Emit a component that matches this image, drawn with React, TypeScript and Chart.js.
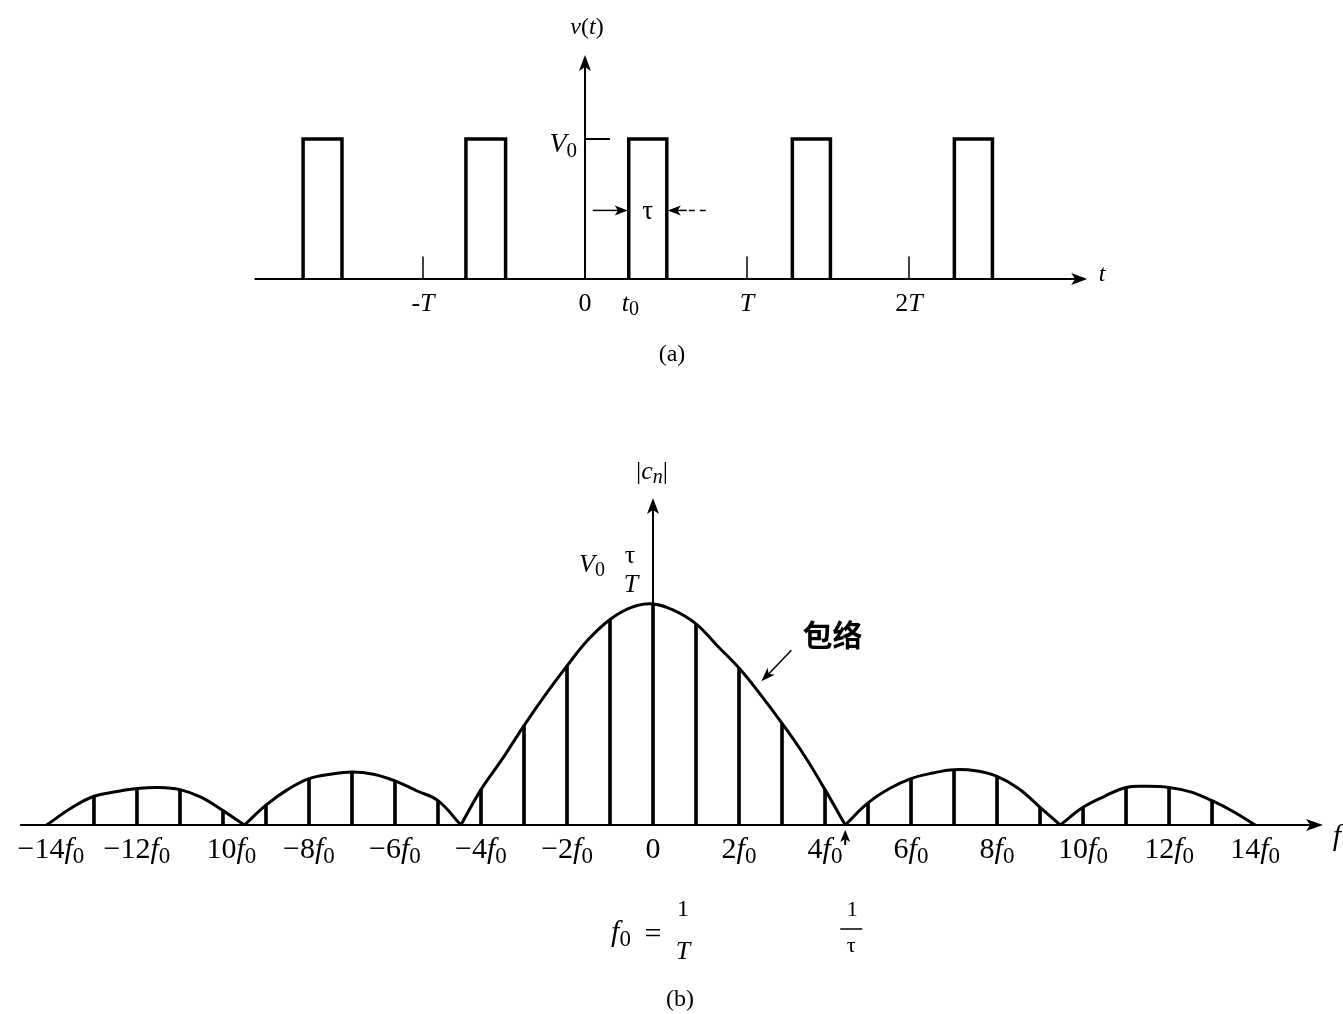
import React, { useEffect, useRef } from "react";
import { Chart, registerables } from "chart.js";

Chart.register(...registerables);

const SERIF = "'Liberation Serif', 'DejaVu Serif', serif";
const CJK = "'Noto Sans CJK SC', 'Noto Sans CJK TC', sans-serif";
const INK = "#000";

// ---- (a) periodic pulse train v(t): time in units of T, level in units of V0
const pulseStarts = [-1.74, -0.735, 0.27, 1.28, 2.28];
const pulseWidths = [0.24, 0.245, 0.235, 0.235, 0.235];
const pulseLevels = [1, 1, 1, 1, 1];
const timeTickValues = [-1, 0, 0.28, 1, 2];
const timeTickLabels = ["-T", "0", "t₀", "T", "2T"];
const periodMarks = [-1, 1, 2];

// ---- (b) amplitude spectrum |c_n|: frequency in units of f0, magnitude in units of V0·τ/T
const harmonics = [-13, -12, -11, -10, -9, -8, -7, -6, -5, -4, -3, -2, -1, 0, 1, 2, 3, 4, 5, 6, 7, 8, 9, 10, 11, 12, 13];
const magnitudes = [0.13, 0.16, 0.16, 0.06, 0.09, 0.21, 0.24, 0.2, 0.11, 0.16, 0.45, 0.72, 0.93, 1.0, 0.91, 0.71, 0.46, 0.16, 0.1, 0.21, 0.25, 0.22, 0.08, 0.08, 0.17, 0.17, 0.11];

// envelope lobes, separated by null so the nulls stay sharp
const envelopeFreq = [
  -14.1, -13.5, -13, -12.5, -12, -11.5, -11, -10.5, -10, -9.5, null,
  -9.5, -9, -8.5, -8, -7.5, -7, -6.5, -6, -5.5, -5, -4.47, null,
  -4.47, -4, -3.5, -3, -2.5, -2, -1.5, -1, -0.5, 0, 0.5, 1, 1.5, 2, 2.5, 3, 3.5, 4, 4.47, null,
  4.47, 5, 5.5, 6, 6.5, 7, 7.5, 8, 8.5, 9, 9.47, null,
  9.47, 10, 10.5, 11, 11.5, 12, 12.5, 13, 13.5, 14.0,
];
const envelopeMag = [
  0, 0.08, 0.13, 0.15, 0.165, 0.17, 0.16, 0.125, 0.065, 0, null,
  0, 0.09, 0.16, 0.21, 0.23, 0.24, 0.23, 0.2, 0.155, 0.11, 0, null,
  0, 0.16, 0.3, 0.45, 0.59, 0.72, 0.84, 0.93, 0.985, 1.0, 0.97, 0.91, 0.81, 0.71, 0.59, 0.46, 0.32, 0.16, 0, null,
  0, 0.1, 0.165, 0.21, 0.235, 0.25, 0.245, 0.22, 0.165, 0.08, 0, null,
  0, 0.08, 0.13, 0.17, 0.175, 0.17, 0.15, 0.11, 0.06, 0,
];
const freqTickValues = [-14, -12, -10, -8, -6, -4, -2, 0, 2, 4, 6, 8, 10, 12, 14];
const freqTickLabels = ["−14f₀", "−12f₀", "10f₀", "−8f₀", "−6f₀", "−4f₀", "−2f₀", "0", "2f₀", "4f₀", "6f₀", "8f₀", "10f₀", "12f₀", "14f₀"];
const firstNull = 4.47;

type Run = { text: string; italic: boolean; sub: boolean };

function toRuns(s: string): Run[] {
  const runs: Run[] = [];
  for (const ch of s) {
    let text = ch;
    let italic = /[A-Za-z]/.test(ch);
    let sub = false;
    if (ch === "₀") { text = "0"; sub = true; italic = false; }
    if (ch === "ₙ") { text = "n"; sub = true; italic = true; }
    const last = runs[runs.length - 1];
    if (last && last.italic === italic && last.sub === sub) last.text += text;
    else runs.push({ text, italic, sub });
  }
  return runs;
}

function runFont(r: Run, size: number) {
  const px = r.sub ? Math.round(size * 0.75) : size;
  return `${r.italic ? "italic " : ""}${px}px ${SERIF}`;
}

function richWidth(ctx: CanvasRenderingContext2D, s: string, size: number) {
  let w = 0;
  for (const r of toRuns(s)) {
    ctx.font = runFont(r, size);
    w += ctx.measureText(r.text).width;
  }
  return w;
}

function drawRich(
  ctx: CanvasRenderingContext2D,
  s: string,
  x: number,
  y: number,
  size: number,
  align: "left" | "center" | "right" = "center"
) {
  const runs = toRuns(s);
  const w = richWidth(ctx, s, size);
  let cx = align === "center" ? x - w / 2 : align === "right" ? x - w : x;
  ctx.textAlign = "left";
  ctx.textBaseline = "middle";
  ctx.fillStyle = INK;
  for (const r of runs) {
    ctx.font = runFont(r, size);
    ctx.fillText(r.text, cx, r.sub ? y + size * 0.22 : y);
    cx += ctx.measureText(r.text).width;
  }
}

function drawPlain(ctx: CanvasRenderingContext2D, s: string, x: number, y: number, font: string) {
  ctx.font = font;
  ctx.fillStyle = INK;
  ctx.textAlign = "center";
  ctx.textBaseline = "middle";
  ctx.fillText(s, x, y);
}

function arrowHead(ctx: CanvasRenderingContext2D, tx: number, ty: number, dx: number, dy: number, len: number, half: number) {
  const n = Math.hypot(dx, dy) || 1;
  const ux = dx / n, uy = dy / n;
  const bx = tx - ux * len, by = ty - uy * len;
  ctx.beginPath();
  ctx.moveTo(tx, ty);
  ctx.lineTo(bx - uy * half, by + ux * half);
  ctx.lineTo(bx + ux * len * 0.25, by + uy * len * 0.25);
  ctx.lineTo(bx + uy * half, by - ux * half);
  ctx.closePath();
  ctx.fillStyle = INK;
  ctx.fill();
}

function line(ctx: CanvasRenderingContext2D, x1: number, y1: number, x2: number, y2: number, w: number) {
  ctx.beginPath();
  ctx.moveTo(x1, y1);
  ctx.lineTo(x2, y2);
  ctx.lineWidth = w;
  ctx.strokeStyle = INK;
  ctx.stroke();
}

const pulseAxesPlugin = {
  id: "pulseAxes",
  beforeDatasetsDraw(chart: any) {
    const { ctx, chartArea, scales } = chart;
    const xs = scales.x, ys = scales.y;
    const y0 = ys.getPixelForValue(0);
    const x0 = xs.getPixelForValue(0);
    ctx.save();
    line(ctx, chartArea.left, y0, chartArea.right - 8, y0, 2);
    arrowHead(ctx, chartArea.right, y0, 1, 0, 16, 6);
    line(ctx, x0, y0, x0, chartArea.top + 8, 2);
    arrowHead(ctx, x0, chartArea.top, 0, -1, 16, 6);
    for (const t of periodMarks) {
      const px = xs.getPixelForValue(t);
      line(ctx, px, y0, px, ys.getPixelForValue(0.16), 1.5);
    }
    const vy = ys.getPixelForValue(pulseLevels[2]);
    line(ctx, x0, vy, xs.getPixelForValue(0.155), vy, 2);
    ctx.restore();
  },
  afterDatasetsDraw(chart: any) {
    const { ctx, chartArea, scales } = chart;
    const xs = scales.x, ys = scales.y;
    const y0 = ys.getPixelForValue(0);
    const x0 = xs.getPixelForValue(0);
    ctx.save();
    timeTickValues.forEach((t, i) => {
      drawRich(ctx, timeTickLabels[i], xs.getPixelForValue(t), y0 + 25, 26);
    });
    drawRich(ctx, "v(t)", x0 + 2, chartArea.top - 27, 24);
    drawRich(ctx, "V₀", x0 - 8, ys.getPixelForValue(pulseLevels[2]) + 6, 28, "right");
    drawRich(ctx, "t", chartArea.right + 15, y0 - 4, 24);

    // τ width markers on the pulse that starts at t0
    const s = pulseStarts[2];
    const e = s + pulseWidths[2];
    const my = ys.getPixelForValue(0.49);
    const ps = xs.getPixelForValue(s);
    const pe = xs.getPixelForValue(e);
    line(ctx, ps - 36, my, ps - 10, my, 1.5);
    arrowHead(ctx, ps - 1, my, 1, 0, 13, 5);
    line(ctx, pe + 10, my, pe + 20, my, 1.5);
    arrowHead(ctx, pe + 1, my, -1, 0, 13, 5);
    ctx.setLineDash([6, 5]);
    line(ctx, pe + 22, my, pe + 42, my, 1.5);
    ctx.setLineDash([]);
    drawPlain(ctx, "τ", (ps + pe) / 2, my + 2, `27px ${SERIF}`);

    drawPlain(ctx, "(a)", 672, 355, `24px ${SERIF}`);
    ctx.restore();
  },
};

const spectrumAxesPlugin = {
  id: "spectrumAxes",
  beforeDatasetsDraw(chart: any) {
    const { ctx, chartArea, scales } = chart;
    const xs = scales.x, ys = scales.y;
    const y0 = ys.getPixelForValue(0);
    const x0 = xs.getPixelForValue(0);
    ctx.save();
    line(ctx, chartArea.left, y0, chartArea.right - 8, y0, 2);
    arrowHead(ctx, chartArea.right, y0, 1, 0, 17, 6);
    line(ctx, x0, y0, x0, chartArea.top + 8, 2);
    arrowHead(ctx, x0, chartArea.top, 0, -1, 16, 6);
    ctx.restore();
  },
  afterDatasetsDraw(chart: any) {
    const { ctx, chartArea, scales } = chart;
    const xs = scales.x, ys = scales.y;
    const y0 = ys.getPixelForValue(0);
    const x0 = xs.getPixelForValue(0);
    ctx.save();

    ctx.font = `30px ${SERIF}`;
    const minusW = ctx.measureText("−").width;
    freqTickValues.forEach((v, i) => {
      const lab = freqTickLabels[i];
      const shift = v < 0 && !lab.startsWith("−") ? minusW / 2 : 0;
      drawRich(ctx, lab, xs.getPixelForValue(v) + shift, y0 + 25, 30);
    });
    drawRich(ctx, "f", chartArea.right + 14, y0 + 12, 30);
    drawRich(ctx, "|cₙ|", x0 - 1, chartArea.top - 26, 26);

    // peak value label V0 τ/T
    const py = ys.getPixelForValue(1);
    drawRich(ctx, "V₀", x0 - 61, py - 39, 26);
    drawPlain(ctx, "τ", x0 - 23, py - 48, `26px ${SERIF}`);
    drawRich(ctx, "T", x0 - 22, py - 19, 26);

    // envelope annotation
    const tipX = xs.getPixelForValue(2.52);
    const tipY = ys.getPixelForValue(0.65);
    line(ctx, tipX + 30, tipY - 31, tipX + 6, tipY - 6, 1.5);
    arrowHead(ctx, tipX, tipY, -1, 1.03, 14, 5);
    drawPlain(ctx, "包络", tipX + 71, tipY - 47, `bold 30px ${CJK}`);

    // marker at the first null, f = 1/τ
    const nx = xs.getPixelForValue(firstNull);
    line(ctx, nx, y0 + 20, nx, y0 + 14, 2);
    arrowHead(ctx, nx, y0 + 5, 0, -1, 12, 5);
    drawPlain(ctx, "1", nx + 7, y0 + 85, `22px ${SERIF}`);
    line(ctx, nx - 5, y0 + 104, nx + 17, y0 + 104, 1.5);
    drawPlain(ctx, "τ", nx + 6, y0 + 121, `22px ${SERIF}`);

    // f0 = 1/T
    drawRich(ctx, "f₀", 621, y0 + 108, 30);
    drawRich(ctx, "=", 653, y0 + 110, 30);
    drawRich(ctx, "1", 683, y0 + 85, 24);
    drawRich(ctx, "T", 683, y0 + 127, 26);

    drawPlain(ctx, "(b)", 680, y0 + 175, `24px ${SERIF}`);
    ctx.restore();
  },
};

export default function App() {
  const topRef = useRef<HTMLCanvasElement>(null);
  const bottomRef = useRef<HTMLCanvasElement>(null);

  useEffect(() => {
    if (!topRef.current || !bottomRef.current) return;

    const pulsePoints: { x: number | null; y: number | null }[] = [];
    pulseStarts.forEach((s, i) => {
      const e = s + pulseWidths[i];
      pulsePoints.push({ x: s, y: 0 }, { x: s, y: pulseLevels[i] }, { x: e, y: pulseLevels[i] }, { x: e, y: 0 }, { x: null, y: null });
    });

    const pulseChart = new Chart(topRef.current, {
      type: "line",
      data: {
        datasets: [
          {
            data: pulsePoints as any,
            borderColor: INK,
            borderWidth: 3.5,
            pointRadius: 0,
            tension: 0,
            borderJoinStyle: "miter",
            spanGaps: false,
          },
        ],
      },
      options: {
        responsive: false,
        animation: false,
        events: [],
        layout: { padding: { left: 254.5, right: 255.8, top: 55, bottom: 66 } },
        plugins: { legend: { display: false }, tooltip: { enabled: false } },
        scales: {
          x: { type: "linear", display: false, min: -2.04, max: 3.1 },
          y: { type: "linear", display: false, min: -0.25, max: 1.6 },
        },
      },
      plugins: [pulseAxesPlugin],
    });

    const envelopePoints = envelopeFreq.map((f, i) => ({ x: f, y: envelopeMag[i] }));
    const stemPoints = harmonics.map((n, i) => ({ x: n, y: magnitudes[i] }));

    const spectrumChart = new Chart(bottomRef.current, {
      type: "bar",
      data: {
        datasets: [
          {
            type: "bar",
            data: stemPoints as any,
            backgroundColor: INK,
            borderWidth: 0,
            barThickness: 3,
            grouped: false,
          },
          {
            type: "line",
            data: envelopePoints as any,
            borderColor: INK,
            borderWidth: 3,
            pointRadius: 0,
            tension: 0.4,
            spanGaps: false,
          } as any,
        ],
      },
      options: {
        responsive: false,
        animation: false,
        events: [],
        layout: { padding: { left: 20, right: 20, top: 117.9, bottom: 144.8 } },
        plugins: { legend: { display: false }, tooltip: { enabled: false } },
        scales: {
          x: { type: "linear", display: false, min: -14.72, max: 15.58, offset: false },
          y: { type: "linear", display: false, min: -0.2, max: 1.48 },
        },
      },
      plugins: [spectrumAxesPlugin],
    });

    return () => {
      pulseChart.destroy();
      spectrumChart.destroy();
    };
  }, []);

  return (
    <div style={{ position: "absolute", left: 0, top: 0, width: 1343, height: 1014, background: "#fff" }}>
      <canvas ref={topRef} width={1343} height={380} style={{ display: "block", width: 1343, height: 380 }} />
      <canvas ref={bottomRef} width={1343} height={634} style={{ display: "block", width: 1343, height: 634 }} />
    </div>
  );
}
